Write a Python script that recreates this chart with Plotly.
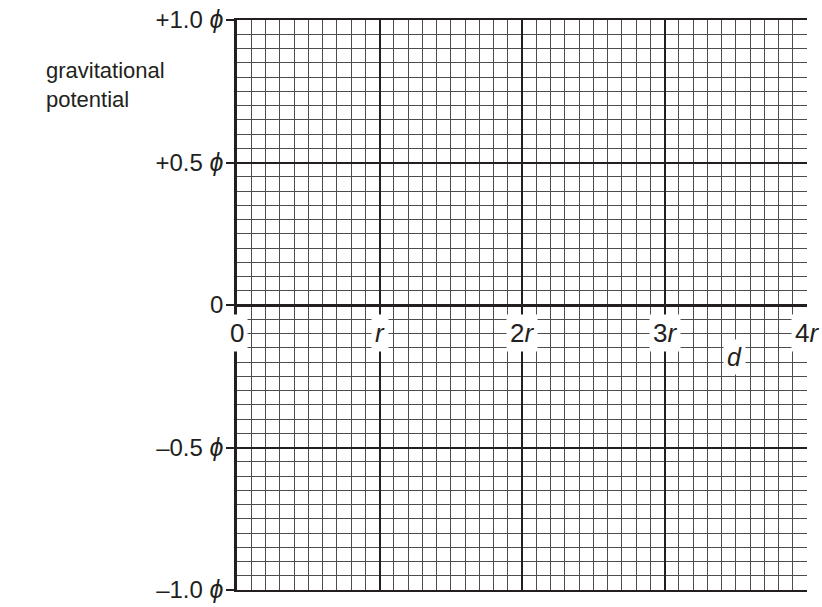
import plotly.graph_objects as go

# data / labels
x_tick_vals = [0, 1, 2, 3, 4]
x_tick_text = ["0", "<i>r</i>", "2<i>r</i>", "3<i>r</i>", "4<i>r</i>"]
y_tick_vals = [-1.0, -0.5, 0, 0.5, 1.0]
PHI = "\u00a0<i><span style='font-size:25px'>\u03d5</span></i>"
y_tick_text = ["\u20131.0" + PHI, "\u20130.5" + PHI, "0", "+0.5" + PHI, "+1.0" + PHI]
x_range = [0, 4]
y_range = [-1, 1]
x_label = "<i>d</i>"
x_label_pos = [3.49, -0.182]
y_label = "gravitational<br>potential"
x_tick_label_y = -0.098

FONT = "Liberation Sans, Arial, sans-serif"
INK = "#231f20"

fig = go.Figure()
# invisible trace to establish axes
fig.add_trace(go.Scatter(x=x_range, y=y_range, mode="markers",
                         marker=dict(opacity=0), hoverinfo="skip", showlegend=False))

fig.update_layout(
    width=822, height=607,
    margin=dict(l=237, r=15, t=20, b=17, autoexpand=False),
    plot_bgcolor="white", paper_bgcolor="white",
    font=dict(family=FONT, size=23, color=INK),
    showlegend=False,
)

fig.update_xaxes(
    range=x_range, tickvals=x_tick_vals, showticklabels=False, ticks="",
    showgrid=True, gridcolor=INK, gridwidth=2,
    minor=dict(dtick=0.1, tick0=0, showgrid=True, gridcolor="#4d4d4d", gridwidth=1),
    zeroline=False, automargin=False,
    showline=True, mirror=True, linecolor=INK, linewidth=1.5,
)
fig.update_yaxes(
    range=y_range, tickvals=y_tick_vals, ticktext=y_tick_text,
    ticks="outside", ticklen=8, tickwidth=1.5, tickcolor=INK,
    tickfont=dict(size=24), automargin=False, ticklabeloverflow="allow",
    ticklabelstandoff=-2,
    showgrid=True, gridcolor=INK, gridwidth=2,
    minor=dict(dtick=0.05, tick0=0, showgrid=True, gridcolor="#4d4d4d", gridwidth=1),
    zeroline=True, zerolinecolor=INK, zerolinewidth=2.5,
    showline=True, linecolor=INK, linewidth=2.5, mirror=False,
)

for xv, txt in zip(x_tick_vals, x_tick_text):
    fig.add_annotation(x=xv, y=x_tick_label_y, text=txt, showarrow=False,
                       bgcolor="white", font=dict(size=26), borderpad=3,
                       xanchor="center", yanchor="middle")

fig.add_annotation(x=x_label_pos[0], y=x_label_pos[1], text=x_label, showarrow=False,
                   bgcolor="white", font=dict(size=25), borderpad=3)

fig.add_annotation(xref="paper", yref="paper", x=-0.123, y=0.937, text=y_label,
                   showarrow=False, align="left", xanchor="right", yanchor="top",
                   font=dict(size=22))

fig.write_html("out.html", config={"displayModeBar": False},
               post_script="document.body.style.margin='0';document.body.style.overflow='hidden';")
